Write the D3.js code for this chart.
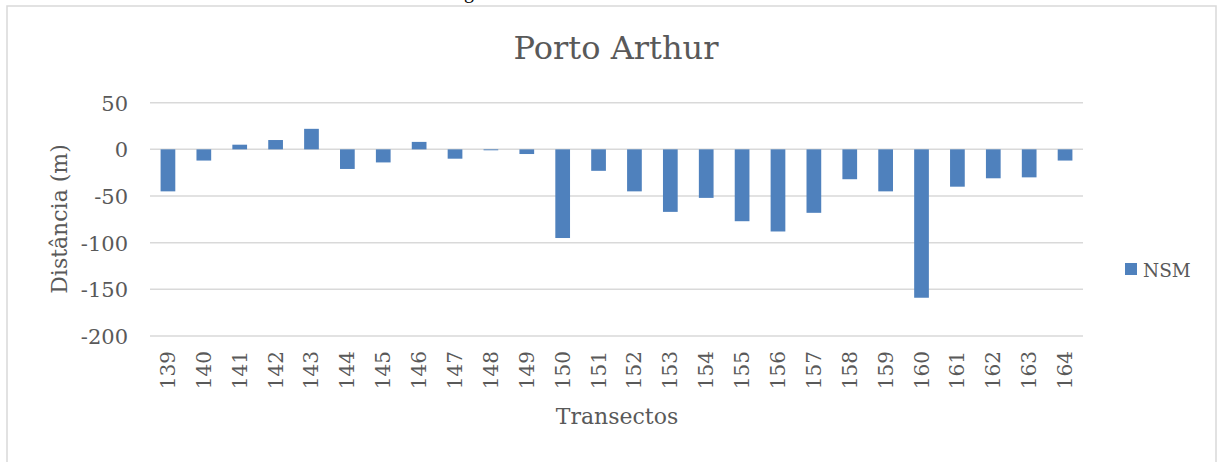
<!DOCTYPE html>
<html><head><meta charset="utf-8">
<script src="https://cdn.jsdelivr.net/npm/d3@7"></script>
<style>html,body{margin:0;padding:0;background:#fff;overflow:hidden}</style>
</head><body>
<svg id="c" width="1218" height="462"></svg>
<script>
const categories = ["139","140","141","142","143","144","145","146","147","148","149","150","151","152","153","154","155","156","157","158","159","160","161","162","163","164"];
const nsm = [-45,-12,5,10,22,-21,-14,8,-10,-1,-5,-95,-23,-45,-67,-52,-77,-88,-68,-32,-45,-159,-40,-31,-30,-12];
const yTicks = [50,0,-50,-100,-150,-200];
const seriesName = "NSM";
const title = "Porto Arthur";
const yTitle = "Distância (m)";
const xTitle = "Transectos";

const svg = d3.select("#c");
const font = "'DejaVu Serif', serif";
const txt = "#595959";

// chart border
svg.append("rect").attr("x",7).attr("y",6).attr("width",1209).attr("height",470)
  .attr("fill","#fff").attr("stroke","#d9d9d9").attr("stroke-width",1.5);

// caption fragment above chart (cut off in the reference too)
svg.append("text").attr("x",464).attr("y",-2).attr("font-family","'Liberation Serif', serif")
  .attr("font-size",20).attr("fill","#000").text("g");

const x = d3.scaleBand().domain(categories).range([150,1083]).paddingInner(0.59).paddingOuter(0.295);
const y = d3.scaleLinear().domain([-200,50]).range([336,102.7]);

// gridlines
svg.append("g").selectAll("line").data(yTicks).join("line")
  .attr("x1",150).attr("x2",1083).attr("y1",d=>y(d)).attr("y2",d=>y(d))
  .attr("stroke","#d9d9d9").attr("stroke-width",1.5);

// y axis labels
const yAxis = d3.axisLeft(y).tickValues(yTicks).tickFormat(d=>String(d)).tickSize(0).tickPadding(0);
const gy = svg.append("g").attr("transform","translate(128,0)").call(yAxis);
gy.select(".domain").remove();
gy.selectAll("text").attr("font-family",font).attr("font-size",21).attr("fill",txt).attr("dy","0.36em");

// bars
svg.append("g").selectAll("rect").data(nsm).join("rect")
  .attr("x",(d,i)=>x(categories[i])).attr("width",x.bandwidth())
  .attr("y",d=>y(Math.max(0,d))).attr("height",d=>Math.abs(y(d)-y(0)))
  .attr("fill","#4f81bd");

// x axis labels
const xAxis = d3.axisBottom(x).tickSize(0).tickPadding(0);
const gx = svg.append("g").attr("transform","translate(0,336)").call(xAxis);
gx.select(".domain").remove();
gx.selectAll("text").attr("font-family",font).attr("font-size",20).attr("fill",txt)
  .attr("text-anchor","end").attr("dy","0.35em").attr("y",0)
  .attr("transform","translate(0,15) rotate(-90)");

// title
svg.append("text").attr("x",616).attr("y",59).attr("text-anchor","middle")
  .attr("font-family",font).attr("font-size",32).attr("fill",txt).text(title);

// axis titles
svg.append("text").attr("transform","translate(67,219) rotate(-90)").attr("text-anchor","middle")
  .attr("font-family",font).attr("font-size",22).attr("fill",txt).text(yTitle);
svg.append("text").attr("x",617).attr("y",424).attr("text-anchor","middle")
  .attr("font-family",font).attr("font-size",22).attr("fill",txt).text(xTitle);

// legend
const lg = svg.append("g").attr("transform","translate(1125,263)");
lg.append("rect").attr("width",12).attr("height",12).attr("fill","#4f81bd");
lg.append("text").attr("x",18).attr("y",14).attr("font-family",font).attr("font-size",18.5)
  .attr("fill",txt).text(seriesName);
</script>
</body></html>
